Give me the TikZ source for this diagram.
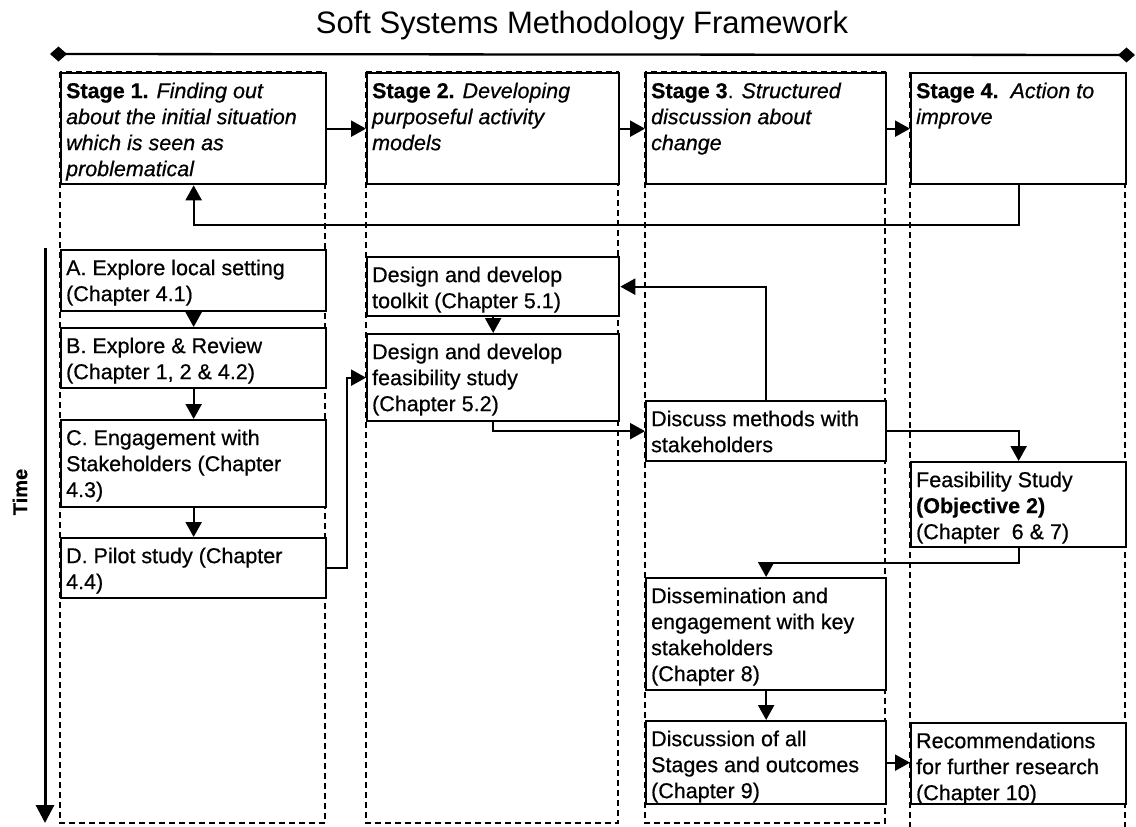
\documentclass[tikz,border=0pt]{standalone}
\usepackage{fontspec}
\setmainfont{Liberation Sans}[FakeBold=0.6]
\newfontfamily\titlefont{Liberation Sans}
\usetikzlibrary{arrows.meta}
\newcommand\bt[3]{\parbox[t][\dimexpr#2pt-10pt\relax][t]{\dimexpr#1pt-10pt\relax}{\raggedright\rule{0pt}{20pt}#3}}
\begin{document}
\begin{tikzpicture}[x=1pt,y=-1pt,
  bx/.style={draw,fill=white,line width=2.3pt,inner sep=5pt,anchor=north west,font=\fontsize{21.5}{26}\selectfont},
  colline/.style={line width=1.8pt,dash pattern=on 6pt off 4pt},
  arr/.style={line width=2.3pt,-{Triangle[length=15pt,width=16pt]}},
  dia/.style={line width=2.3pt,{Diamond[length=17pt,width=15pt]}-{Diamond[length=17pt,width=15pt]}}]
\useasboundingbox (0,0) rectangle (1136,827);

% title and top line
\node[font=\titlefont\fontsize{31}{36}\selectfont,anchor=base] (title) at (582,33) {Soft Systems Methodology Framework};
\coordinate (tl) at (50,54);
\coordinate (tr) at (1135,55);
\draw[dia] (tl) -- (tr);

% dashed columns
\draw[colline] (60,72) rectangle (325,823);
\draw[colline] (366,72) rectangle (618,823);
\draw[colline] (645,72) rectangle (885,823);
\draw[colline] (910,72) -- (910,830);
\draw[colline] (1125,72) -- (1125,830);

% stage boxes
\node[bx] (s1) at (60,72) {\bt{265}{111}{\textbf{Stage 1.} \textit{Finding out}\\\textit{about the initial situation}\\\textit{which is seen as}\\\textit{problematical}}};
\node[bx] (s2) at (366,72) {\bt{252}{111}{\textbf{Stage 2.} \textit{Developing}\\\textit{purposeful activity}\\\textit{models}}};
\node[bx] (s3) at (645,72) {\bt{240}{111}{\textbf{Stage 3}. \textit{Structured}\\\textit{discussion about}\\\textit{change}}};
\node[bx] (s4) at (910,72) {\bt{215}{111}{\textbf{Stage 4.}\ \ \textit{Action to}\\\textit{improve}}};

% column 1
\node[bx] (a) at (60,249) {\bt{265}{61}{A. Explore local setting\\(Chapter 4.1)}};
\node[bx] (b) at (60,327) {\bt{265}{60}{B. Explore \& Review\\(Chapter 1, 2 \& 4.2)}};
\node[bx] (c) at (60,419) {\bt{265}{87}{C. Engagement with\\Stakeholders (Chapter\\4.3)}};
\node[bx] (d) at (60,537) {\bt{265}{60}{D. Pilot study (Chapter\\4.4)}};

% column 2
\node[bx] (tk) at (366,256) {\bt{252}{59}{Design and develop\\toolkit (Chapter 5.1)}};
\node[bx] (fd) at (366,333) {\bt{252}{87}{Design and develop\\feasibility study\\(Chapter 5.2)}};

% column 3
\node[bx] (dm) at (645,400) {\bt{240}{60}{Discuss methods with\\stakeholders}};
\node[bx] (ds) at (645,577) {\bt{240}{112}{Dissemination and\\engagement with key\\stakeholders\\(Chapter 8)}};
\node[bx] (dc) at (645,720) {\bt{240}{83}{Discussion of all\\Stages and outcomes\\(Chapter 9)}};

% column 4
\node[bx] (fs) at (910,461) {\bt{215}{85}{Feasibility Study\\\textbf{(Objective 2)}\\(Chapter\ \ 6 \& 7)}};
\node[bx] (rc) at (910,722) {\bt{215}{81}{Recommendations\\for further research\\(Chapter 10)}};

% time axis
\coordinate (t1) at (45,248);
\coordinate (t2) at (45,823);
\draw[line width=3pt,-{Triangle[length=18pt,width=18pt]}] (t1) -- (t2);
\node[font=\fontsize{20}{22}\selectfont\bfseries,rotate=90] (time) at (20,492) {Time};

% connectors
\draw[arr] (s1.east) -- (s2.west);
\draw[arr] (s2.east) -- (s3.west);
\draw[arr] (s3.east) -- (s4.west);
\draw[arr] (s4.south) -- ++(0,40) -| (s1.south);
\draw[arr] (a.south) -- (b.north);
\draw[arr] (b.south) -- (c.north);
\draw[arr] (c.south) -- (d.north);
\draw[arr] (d.east) -- ++(20,0) |- (fd.west);
\draw[arr] (tk.south) -- (fd.north);
\draw[arr] (fd.south) |- (dm.west);
\draw[arr] (dm.north) |- (tk.east);
\draw[arr] (dm.east) -| (fs.north);
\draw[arr] (fs.south) -- ++(0,15) -| (ds.north);
\draw[arr] (ds.south) -- (dc.north);
\draw[arr] (dc.east) -- (rc.west |- dc.east);
\end{tikzpicture}
\end{document}
